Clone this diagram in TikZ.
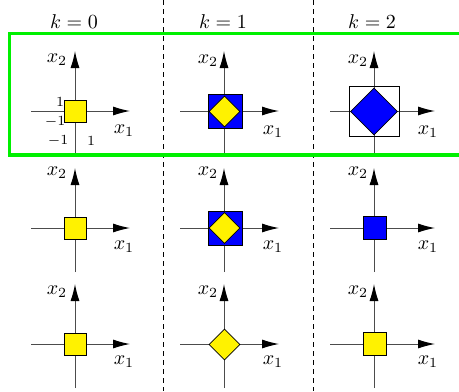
\documentclass[tikz,border=0pt]{standalone}
\usetikzlibrary{arrows.meta,shapes.geometric}
\begin{document}
\begin{tikzpicture}[x=0.5pt,y=-0.5pt,
  axis/.style={draw=black!70, line width=0.5pt},
  arr/.style={axis, -{Latex[length=8.5pt,width=4.5pt,color=black]}},
  sep/.style={draw=black, line width=0.4pt, dash pattern=on 2.5pt off 2pt},
  frame/.style={draw={rgb,255:red,0;green,240;blue,0}, line width=1.6pt},
  sq/.style={rectangle, draw=black, line width=0.4pt, inner sep=0pt, minimum size=#1},
  dm/.style={diamond, draw=black, line width=0.4pt, inner sep=0pt, minimum size=#1},
  lab/.style={inner sep=0pt},
  tick/.style={inner sep=0pt, font=\scriptsize}]
\useasboundingbox (0,0) rectangle (459,391);
% separators
\coordinate (d1t) at (163.5,0); \coordinate (d1b) at (163.5,391);
\coordinate (d2t) at (313.5,0); \coordinate (d2b) at (313.5,391);
\draw[sep] (d1t) -- (d1b);
\draw[sep] (d2t) -- (d2b);
% column headers
\node[lab] (k0) at (74,22) {$k=0$};
\node[lab] (k1) at (223,22) {$k=1$};
\node[lab] (k2) at (372,22) {$k=2$};
% axes
\foreach \n/\cx/\cy/\re/\lxa/\lya/\lxb/\lyb in {
  a/75/111/55/57/60/124/131,
  b/224/111/55/208/61/273/132,
  c/374/111/61/358/61/428/132,
  d/75/228/55/57/173/124/247,
  e/224/228/55/208/173/273/247,
  f/374/228/61/358/173/428/247,
  g/75/344/55/57/292/124/362,
  h/224/344/55/208/292/273/362,
  i/374/344/61/358/292/428/362}{
  \coordinate (\n L) at (\cx-44,\cy);
  \coordinate (\n R) at (\cx+\re,\cy);
  \coordinate (\n B) at (\cx,\cy+44);
  \coordinate (\n T) at (\cx,\cy-60);
  \draw[arr] (\n L) -- (\n R);
  \draw[arr] (\n B) -- (\n T);
  \node[lab] (\n x2) at (\lxa,\lya) {$x_2$};
  \node[lab] (\n x1) at (\lxb,\lyb) {$x_1$};
}
% green frame (open on the right, runs off the page)
\coordinate (g1) at (470,33.5);
\coordinate (g2) at (9.5,33.5);
\coordinate (g3) at (9.5,155);
\coordinate (g4) at (470,155);
\draw[frame] (g1) -- (g2) -- (g3) -- (g4);
% row 1
\node[sq=11pt, fill=yellow] (sa) at (75,111.5) {};
\node[tick] (t1) at (60,102) {$1$};
\node[tick] (t2) at (55,122) {$-1$};
\node[tick] (t3) at (58,140.5) {$-1$};
\node[tick] (t4) at (91,140.5) {$1$};
\node[sq=17pt, fill=blue] (sb) at (225,111.5) {};
\node[dm=15.5pt, fill=yellow] (db) at (224.5,111.5) {};
\node[sq=25pt] (sc) at (374,111) {};
\node[dm=23.5pt, fill=blue] (dc) at (374,111.5) {};
% row 2
\node[sq=11pt, fill=yellow] (sd) at (75,228) {};
\node[sq=17pt, fill=blue] (se) at (225,228) {};
\node[dm=15.5pt, fill=yellow] (de) at (224.5,228) {};
\node[sq=11.5pt, fill=blue] (sf) at (374.5,228) {};
% row 3
\node[sq=11pt, fill=yellow] (sg) at (75,344) {};
\node[dm=15.5pt, fill=yellow] (dh) at (224.5,344.5) {};
\node[sq=11.5pt, fill=yellow] (si) at (374.5,344) {};
\end{tikzpicture}
\end{document}
